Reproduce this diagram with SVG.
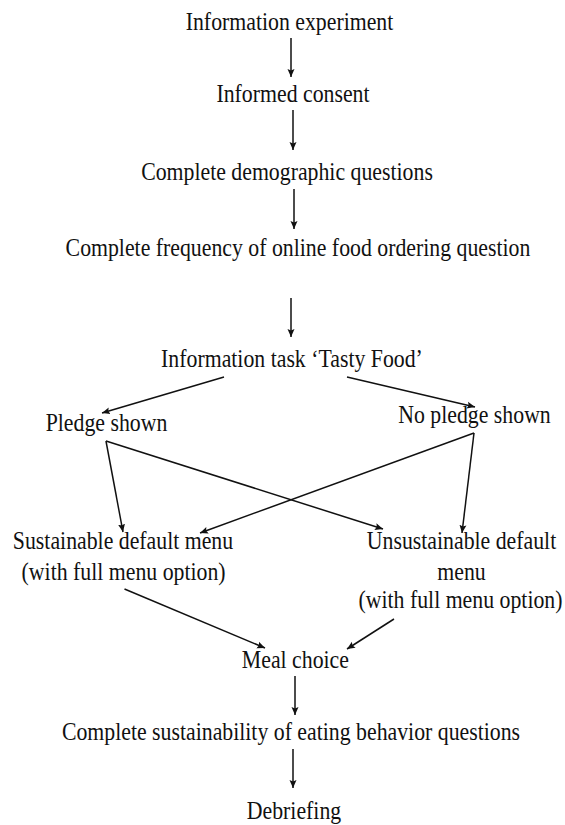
<svg xmlns="http://www.w3.org/2000/svg" width="565" height="825" viewBox="0 0 565 825">
<style>
text{font-family:"Liberation Serif","Times New Roman",serif;font-size:21.8px;fill:#111;text-anchor:middle}
.c{stroke:#111;stroke-width:1.5;fill:none;marker-end:url(#ah)}
</style>
<defs>
<marker id="ah" markerUnits="userSpaceOnUse" markerWidth="9" markerHeight="8" refX="8" refY="4" orient="auto">
<path d="M0,0.5 L8,4 L0,7.5 L1.5,4 z" fill="#111"/>
</marker>
</defs>
<rect width="565" height="825" fill="#fff"/>
<g id="connectors">
<line class="c" x1="291" y1="38" x2="291" y2="77"/>
<line class="c" x1="293" y1="110" x2="293" y2="150"/>
<line class="c" x1="294" y1="189" x2="294" y2="229"/>
<line class="c" x1="291" y1="298" x2="291" y2="337"/>
<line class="c" x1="224" y1="377" x2="102" y2="413"/>
<line class="c" x1="347" y1="377" x2="475" y2="407"/>
<line class="c" x1="106" y1="441" x2="123" y2="532"/>
<line class="c" x1="106" y1="441" x2="383" y2="529"/>
<line class="c" x1="474" y1="433" x2="200" y2="533"/>
<line class="c" x1="474" y1="433" x2="462" y2="533"/>
<line class="c" x1="124.5" y1="589" x2="265" y2="648"/>
<line class="c" x1="394" y1="619" x2="347" y2="649"/>
<line class="c" x1="295" y1="676" x2="295" y2="715"/>
<line class="c" x1="293" y1="749" x2="293" y2="788"/>
</g>
<g id="n1"><text transform="translate(289.5,30) scale(1,1.17)">Information experiment</text></g>
<g id="n2"><text transform="translate(293,102) scale(1,1.17)">Informed consent</text></g>
<g id="n3"><text transform="translate(287,180) scale(1,1.17)">Complete demographic questions</text></g>
<g id="n4"><text transform="translate(298,256) scale(1,1.17)">Complete frequency of online food ordering question</text></g>
<g id="n5"><text transform="translate(292,367) scale(1,1.17)">Information task ‘Tasty Food’</text></g>
<g id="n6"><text transform="translate(106.5,431) scale(1,1.17)">Pledge shown</text></g>
<g id="n7"><text transform="translate(474.5,423) scale(1,1.17)">No pledge shown</text></g>
<g id="n8"><text transform="translate(123,549) scale(1,1.17)">Sustainable default menu</text><text transform="translate(123.6,580) scale(1,1.17)">(with full menu option)</text></g>
<g id="n9"><text transform="translate(461.5,549) scale(1,1.17)">Unsustainable default</text><text transform="translate(461.5,580) scale(1,1.17)">menu</text><text transform="translate(460.5,608) scale(1,1.17)">(with full menu option)</text></g>
<g id="n10"><text transform="translate(295.4,668) scale(1,1.17)">Meal choice</text></g>
<g id="n11"><text transform="translate(291,740) scale(1,1.17)">Complete sustainability of eating behavior questions</text></g>
<g id="n12"><text transform="translate(294,819) scale(1,1.17)">Debriefing</text></g>
</svg>
